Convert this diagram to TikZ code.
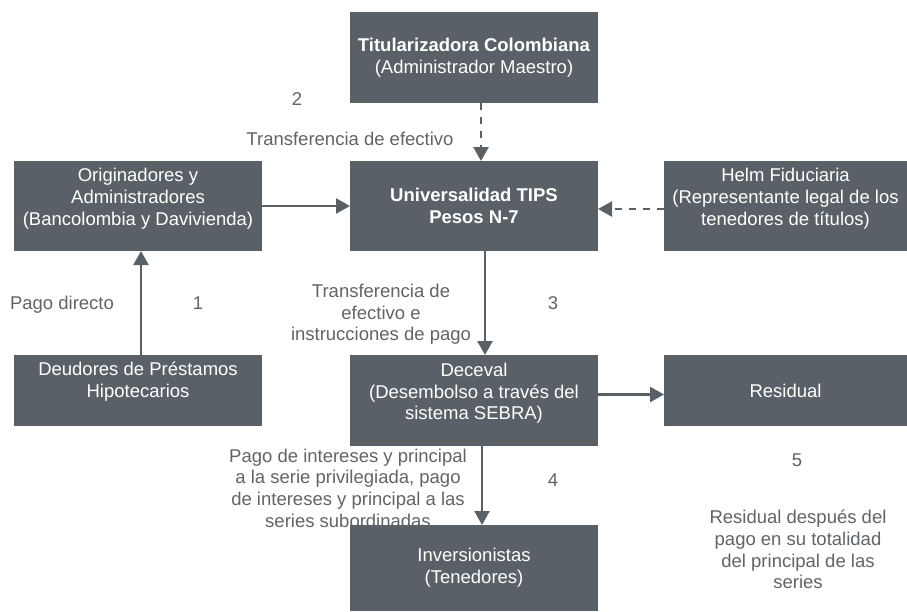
\documentclass[tikz,border=0pt]{standalone}
\usepackage{fontspec}
\setmainfont{Liberation Sans}
\usetikzlibrary{arrows.meta}
\definecolor{boxgray}{RGB}{90,97,102}
\definecolor{txtgray}{RGB}{95,100,104}
\tikzset{
  box/.style={fill=boxgray, draw=none, text=white, align=center, anchor=north west,
    inner sep=2pt, outer sep=0pt, font=\fontsize{18.5}{21.7}\selectfont},
  lbl/.style={text=txtgray, align=center, inner sep=0pt, font=\fontsize{18.5}{21.7}\selectfont},
  conn/.style={draw=boxgray, line width=2.5pt, -{Triangle[width=15pt,length=14pt]}},
  dconn/.style={conn, dash pattern=on 7pt off 7pt}
}
\begin{document}
\begin{tikzpicture}[x=1pt,y=1pt]
\useasboundingbox (0,0) rectangle (907,-611);
% labels (drawn first, boxes overlap)
\node[lbl] (n2) at (297,-99) {2};
\node[lbl] (t2) at (350,-139) {Transferencia de efectivo};
\node[lbl] (pd) at (62,-305) {Pago directo};
\node[lbl] (n1) at (198,-303) {1};
\node[lbl] (t3) at (381,-314.5) {Transferencia de\\efectivo e\\instrucciones de pago};
\node[lbl] (n3) at (553,-303) {3};
\node[lbl] (t4) at (348,-488) {Pago de intereses y principal\\a la serie privilegiada, pago\\de intereses y principal a las\\series subordinadas};
\node[lbl] (n4) at (553,-480) {4};
\node[lbl] (n5) at (797,-460) {5};
\node[lbl] (t5) at (798,-549.5) {Residual después del\\pago en su totalidad\\del principal de las\\series};
% boxes
\node[box, minimum width=248pt, minimum height=91pt] (tit) at (350,-12) {\textbf{Titularizadora Colombiana}\\(Administrador Maestro)};
\node[box, minimum width=248pt, minimum height=90pt] (orig) at (14,-161) {Originadores y\\Administradores\\(Bancolombia y Davivienda)\\[-10pt]\strut};
\node[box, minimum width=248pt, minimum height=90pt] (univ) at (350,-161) {\textbf{Universalidad TIPS}\\\textbf{Pesos N-7}};
\node[box, minimum width=243pt, minimum height=90pt] (helm) at (664,-161) {Helm Fiduciaria\\(Representante legal de los\\tenedores de títulos)\\[-10pt]\strut};
\node[box, minimum width=248pt, minimum height=71pt] (deud) at (14,-355) {Deudores de Préstamos\\Hipotecarios\\[-6pt]\strut};
\node[box, minimum width=248pt, minimum height=91pt] (dec) at (350,-355) {Deceval\\(Desembolso a través del\\sistema SEBRA)\\[-10pt]\strut};
\node[box, minimum width=243pt, minimum height=71pt] (res) at (664,-355) {Residual};
\node[box, minimum width=248pt, minimum height=86pt] (inv) at (350,-525) {Inversionistas\\(Tenedores)};
% connectors
\draw[dconn] ([xshift=7pt]tit.south) -- ([xshift=7pt]univ.north);
\draw[conn] (orig.east) -- (univ.west);
\draw[dconn] ([yshift=-3pt]helm.west) -- ([yshift=-3pt]univ.east);
\draw[conn] ([xshift=3pt]deud.north) -- ([xshift=3pt]orig.south);
\draw[conn] ([xshift=11pt]univ.south) -- ([xshift=11pt]dec.north);
\draw[conn] ([yshift=6pt]dec.east) -- ([yshift=6pt]dec.east -| res.west);
\draw[conn] ([xshift=8pt]dec.south) -- ([xshift=8pt]inv.north);
\end{tikzpicture}
\end{document}
